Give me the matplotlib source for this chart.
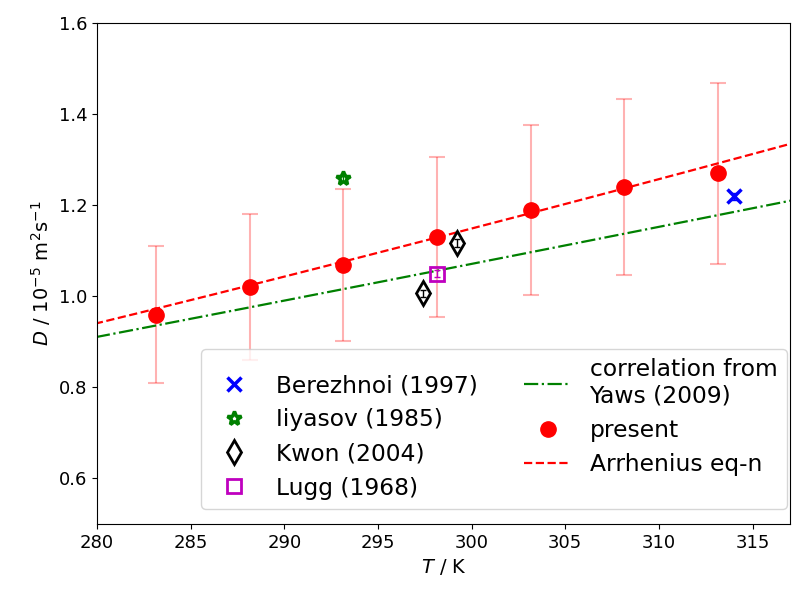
import numpy as np
import matplotlib
matplotlib.use("Agg")
import matplotlib.pyplot as plt

# present data
T_present = [283.15, 288.15, 293.15, 298.15, 303.15, 308.15, 313.15]
D_present = [0.96, 1.02, 1.07, 1.13, 1.19, 1.24, 1.27]
D_present_err = [0.151, 0.160, 0.167, 0.176, 0.187, 0.194, 0.199]

# literature data
T_berezhnoi = [314.0]
D_berezhnoi = [1.22]
T_iiyasov = [293.15]
D_iiyasov = [1.26]
T_kwon = [297.4, 299.2]
D_kwon = [1.007, 1.117]
T_lugg = [298.15]
D_lugg = [1.05]
lit_err = 0.008

# model curves: D = A * exp(-B / T)
arr_A, arr_B = 0.941 * np.exp(839.0 / 280.0), 839.0
yaws_A, yaws_B = 0.911 * np.exp(681.0 / 280.0), 681.0

fig = plt.figure(figsize=(7.93, 5.91), dpi=100)
ax = fig.add_axes([0.1223, 0.1134, 0.8740, 0.8472])

Tl = np.linspace(275, 320, 200)
h_y, = ax.plot(Tl, yaws_A * np.exp(-yaws_B / Tl), '-.', color='green', lw=1.6,
               label='correlation from\nYaws (2009)', zorder=2)

ax.errorbar(T_present, D_present, yerr=D_present_err, fmt='none',
            ecolor='red', alpha=0.3, capsize=5.5, elinewidth=1.5, capthick=1.5, zorder=1)

# literature with tiny error bars
for T, D, c in [(T_berezhnoi, D_berezhnoi, 'blue'), (T_iiyasov, D_iiyasov, 'green'),
                (T_kwon, D_kwon, 'black'), (T_lugg, D_lugg, 'm')]:
    ax.errorbar(T, D, yerr=lit_err, fmt='none', ecolor=c, capsize=2.5,
                elinewidth=1, zorder=3)

h_b, = ax.plot(T_berezhnoi, D_berezhnoi, 'x', color='blue', ms=10, mew=2.5,
               label='Berezhnoi (1997)', zorder=4)
h_i, = ax.plot(T_iiyasov, D_iiyasov, '*', color='green', ms=10, mew=2.5,
               mfc='none', label='Iiyasov (1985)', zorder=4)
h_k, = ax.plot(T_kwon, D_kwon, 'd', color='black', ms=12.5, mew=2,
               mfc='none', label='Kwon (2004)', zorder=4)
h_l, = ax.plot(T_lugg, D_lugg, 's', color='m', ms=10.5, mew=2,
               mfc='none', label='Lugg (1968)', zorder=4)
h_p, = ax.plot(T_present, D_present, 'o', color='red', ms=11,
               label='present', zorder=5)
h_a, = ax.plot(Tl, arr_A * np.exp(-arr_B / Tl), '--', color='red', lw=1.6,
               label='Arrhenius eq-n', zorder=2)

ax.set_xlim(280, 317)
ax.set_ylim(0.5, 1.6)
ax.set_xticks([280, 285, 290, 295, 300, 305, 310, 315])
ax.set_yticks([0.6, 0.8, 1.0, 1.2, 1.4, 1.6])
ax.tick_params(labelsize=13)
ax.set_xlabel(r'$T$ / K', fontsize=14)
ax.set_ylabel(r'$D$ / 10$^{-5}$ m$^{2}$s$^{-1}$', fontsize=14)

ax.legend(handles=[h_b, h_i, h_k, h_l, h_y, h_p, h_a], ncol=2, fontsize=16.8,
          labelspacing=0.48, loc='lower right', bbox_to_anchor=(0.995, 0.03),
          borderaxespad=0)

fig.savefig('out.png', dpi=100)
